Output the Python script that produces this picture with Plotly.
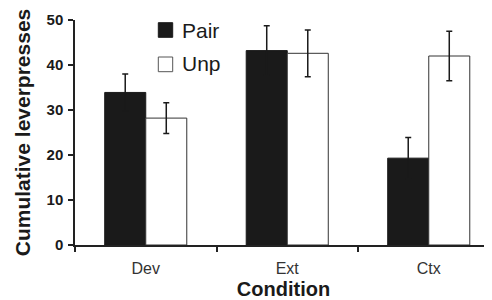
import plotly.graph_objects as go

conditions = ["Dev", "Ext", "Ctx"]
series_names = ["Pair", "Unp"]
pair_vals = [33.9, 43.2, 19.3]
pair_err = [4.1, 5.5, 4.6]
unp_vals = [28.2, 42.6, 42.0]
unp_err = [3.4, 5.2, 5.5]
y_ticks = [0, 10, 20, 30, 40, 50]

FONT = "Liberation Sans, Arial, Helvetica, sans-serif"
# page body has an 8px margin: figure is shrunk so it fits the 492x300 window
OFF = 8
W, H = 492 - OFF, 300 - OFF
L, R, T, B = 75 - OFF, 0, 20 - OFF, 300 - 245
pw, ph = W - L - R, H - T - B

def px(x):  # screen px -> paper fraction
    return (x - 75) / pw

def py(y):
    return (245 - y) / ph

fig = go.Figure()
fig.add_trace(go.Bar(
    x=conditions, y=pair_vals, name=series_names[0],
    marker=dict(color="#1a1a1a", line=dict(color="#1a1a1a", width=1)),
    error_y=dict(type="data", array=pair_err, color="#1a1a1a", thickness=1.5, width=3),
    showlegend=False,
))
fig.add_trace(go.Bar(
    x=conditions, y=unp_vals, name=series_names[1],
    marker=dict(color="white", line=dict(color="#333333", width=1)),
    error_y=dict(type="data", array=unp_err, color="#1a1a1a", thickness=1.5, width=3),
    showlegend=False,
))

# manual legend
fig.add_shape(type="rect", xref="paper", yref="paper",
              x0=px(158.3), x1=px(172.7), y0=py(37.3), y1=py(22.7),
              fillcolor="#1a1a1a", line=dict(color="#1a1a1a", width=1))
fig.add_shape(type="rect", xref="paper", yref="paper",
              x0=px(158.3), x1=px(172.7), y0=py(71.7), y1=py(57.0),
              fillcolor="white", line=dict(color="#555555", width=1))
fig.add_annotation(xref="paper", yref="paper", x=px(180), y=py(31),
                   text=series_names[0], showarrow=False, xanchor="left", yanchor="middle",
                   font=dict(family=FONT, size=21, color="#1a1a1a"))
fig.add_annotation(xref="paper", yref="paper", x=px(180), y=py(63.5),
                   text=series_names[1], showarrow=False, xanchor="left", yanchor="middle",
                   font=dict(family=FONT, size=21, color="#1a1a1a"))

fig.update_layout(
    width=W, height=H,
    margin=dict(l=L, r=R, t=T, b=B, autoexpand=False),
    paper_bgcolor="white", plot_bgcolor="white",
    barmode="group", bargap=0.42, bargroupgap=0,
    font=dict(family=FONT, color="#1a1a1a"),
    xaxis=dict(
        type="category", range=[-0.5, 2.447], automargin=False,
        showline=True, linecolor="#222222", linewidth=1.5,
        ticks="outside", tickson="boundaries", ticklen=5, tickcolor="#222222", tickwidth=1.5,
        tickfont=dict(family=FONT, size=16, color="#333333"),
        ticklabelstandoff=8,
        title=dict(text="<b>Condition</b>", font=dict(family=FONT, size=20, color="#1a1a1a"), standoff=12),
        showgrid=False, zeroline=False,
    ),
    yaxis=dict(
        range=[0, 50], tickvals=y_ticks, automargin=False,
        showline=True, linecolor="#222222", linewidth=1.5,
        ticks="outside", ticklen=5, tickcolor="#222222", tickwidth=1.5,
        tickfont=dict(family=FONT, size=15, color="#1a1a1a", weight="bold"),
        ticklabelstandoff=2,
        title=dict(text="<b>Cumulative leverpresses</b>", font=dict(family=FONT, size=21, color="#1a1a1a"), standoff=10),
        showgrid=False, zeroline=False,
    ),
)

fig.write_html("out.html")
